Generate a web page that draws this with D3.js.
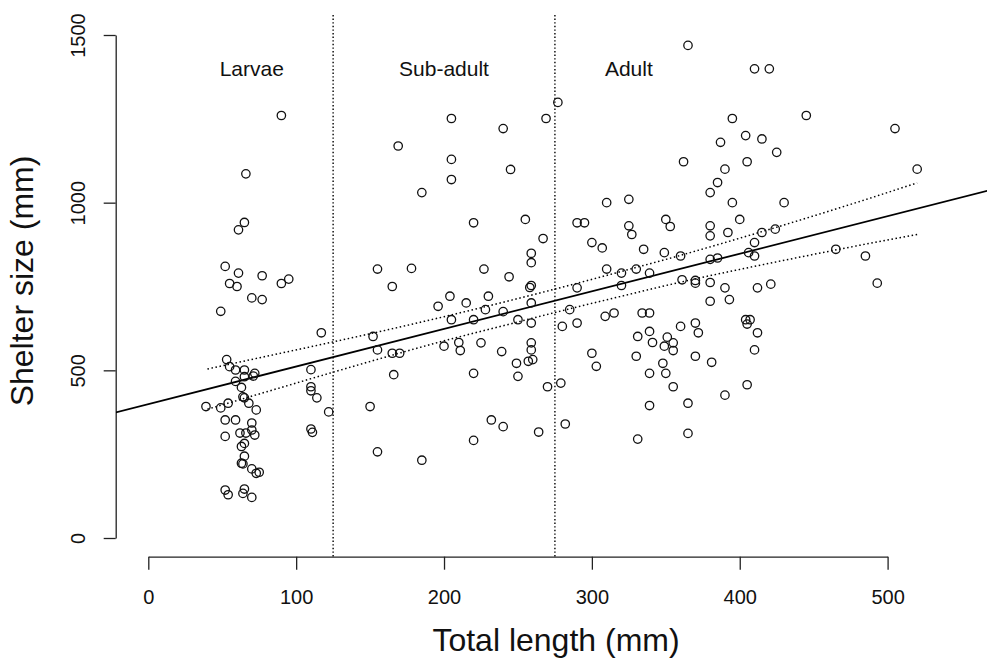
<!DOCTYPE html>
<html>
<head>
<meta charset="utf-8">
<script src="https://cdn.jsdelivr.net/npm/d3@7"></script>
<style>
  body { margin: 0; background: #fff; }
  svg { display: block; font-family: "Liberation Sans", Arial, Helvetica, sans-serif; }
</style>
</head>
<body>
<script>
'use strict';

// total length (mm) and shelter size (mm) of each animal
const lengths = [
  90, 66, 65, 61, 52, 61, 77, 95, 90, 55, 60, 70, 77, 49, 117, 53, 55, 59, 65, 72,
  71, 65, 59, 63, 110, 110, 110, 114, 64, 65, 68, 73, 39, 49, 54, 122, 52, 59, 70, 70,
  62, 66, 72, 52, 65, 63, 110, 111, 65, 63, 64, 70, 73, 75, 52, 54, 65, 64, 70,
  277, 269, 205, 240, 169, 205, 245, 205, 185, 310, 325, 220, 255, 290, 295, 325, 327, 267, 300, 307,
  335, 259, 259, 155, 178, 227, 244, 310, 320, 330, 339, 165, 259, 258, 290, 320,
  365, 410, 420, 445, 505, 395, 404, 415, 387, 425, 362, 405, 390, 520, 385, 380, 395, 430, 400, 350,
  353, 380, 380, 392, 415, 424, 410, 349, 360, 380, 385, 406, 410, 465, 485, 361, 370, 370, 380, 390,
  412, 421, 493,
  204, 230, 196, 215, 228, 240, 259, 285, 205, 220, 250, 259, 280, 290, 309, 315, 334, 339, 152, 155,
  165, 170, 200, 210, 211, 225, 239, 259, 259, 249, 257, 260, 250, 220, 166, 331, 339, 341, 330, 339,
  300, 303, 270, 279, 339, 150, 232, 240, 282, 264, 220, 331, 155, 185, 348,
  380, 393, 404, 407, 405, 370, 360, 372, 412, 351, 355, 349, 355, 370, 381, 410, 350, 355, 405, 390,
  365, 365
];
const shelters = [
  1260, 1086, 941, 919, 810, 790, 782, 772, 759, 759, 750, 716, 711, 676, 612, 532, 511, 501, 501, 491,
  483, 481, 467, 449, 502, 451, 439, 418, 421, 418, 402, 382, 392, 388, 402, 376, 352, 352, 343, 322,
  313, 313, 307, 303, 282, 273, 325, 315, 244, 223, 221, 206, 193, 196, 143, 129, 146, 133, 121,
  1299, 1251, 1251, 1221, 1169, 1129, 1099, 1069, 1030, 1000, 1010, 940, 950, 940, 940, 931, 905, 893, 881, 865,
  861, 849, 821, 802, 804, 802, 779, 802, 790, 802, 790, 750, 753, 747, 746, 753,
  1469, 1399, 1399, 1260, 1221, 1251, 1200, 1190, 1180, 1150, 1122, 1122, 1100, 1100, 1060, 1030, 1000, 1000, 950, 950,
  929, 931, 901, 911, 911, 921, 881, 851, 841, 831, 835, 851, 841, 861, 841, 770, 768, 760, 762, 746,
  746, 757, 760,
  721, 721, 691, 701, 681, 675, 701, 681, 651, 651, 651, 641, 631, 641, 661, 671, 671, 671, 601, 561,
  551, 551, 572, 583, 559, 582, 556, 582, 561, 521, 527, 532, 482, 491, 487, 601, 616, 583, 542, 491,
  551, 512, 451, 462, 395, 392, 352, 332, 340, 316, 291, 295, 257, 232, 521,
  706, 711, 651, 651, 638, 641, 631, 612, 612, 599, 582, 572, 559, 542, 524, 561, 491, 451, 457, 426,
  402, 312
];

// fitted line and its confidence band
const fitX = [-25, 575];
const fitY = [371, 1044];
const bandX = [40, 80, 120, 160, 200, 240, 280, 320, 360, 400, 440, 480, 520];
const bandUpper = [504, 542, 580, 619, 660, 703, 748, 795, 843, 894, 947, 1002, 1059];
const bandLower = [384, 436, 488, 539, 588, 633, 678, 721, 763, 801, 837, 872, 905];

// stage limits and labels
const stageBreaks = [125, 275];
const stageNames = ["Larvae", "Sub-adult", "Adult"];
const stageLabelX = [70, 200, 325];

const xTicks = [0, 100, 200, 300, 400, 500];
const yTicks = [0, 500, 1000, 1500];

const width = 987, height = 662;
const plot = {left: 116, right: 994, top: 15, bottom: 557};

const svg = d3.select("body").append("svg")
  .attr("width", width)
  .attr("height", height);

const x = d3.scaleLinear().domain([0, 500]).range([148.3, 887.6]);
const y = d3.scaleLinear().domain([0, 1500]).range([538, 35]);

makeAxes();
drawStages();
drawFit();
plotPoints();
makeLabels();

function makeAxes() {
  let xAxis = svg.append("g")
    .attr("transform", "translate(0," + 556.7 + ")")
    .call(d3.axisBottom(x).tickValues(xTicks).tickFormat(d3.format("d"))
      .tickSize(13).tickSizeOuter(0));
  xAxis.selectAll("text")
    .attr("y", 47)
    .attr("dy", 0)
    .style("font-size", "20px");

  let yAxis = svg.append("g")
    .attr("transform", "translate(115.7,0)")
    .call(d3.axisLeft(y).tickValues(yTicks).tickFormat(d3.format("d"))
      .tickSize(12).tickSizeOuter(0));
  yAxis.selectAll("text")
    .attr("transform", "rotate(-90)")
    .attr("x", 0)
    .attr("y", -31)
    .attr("dy", 0)
    .style("text-anchor", "middle")
    .style("font-size", "20px");

  svg.selectAll(".domain, .tick line")
    .attr("stroke", "#222")
    .attr("stroke-width", 1.3);
  svg.selectAll(".tick text").attr("fill", "#111");
}

function drawStages() {
  svg.selectAll(".stage")
    .data(stageBreaks)
    .enter().append("line")
    .attr("class", "stage")
    .attr("x1", d => x(d)).attr("x2", d => x(d))
    .attr("y1", plot.top).attr("y2", plot.bottom)
    .attr("stroke", "#000")
    .attr("stroke-width", 1.4)
    .attr("stroke-dasharray", "1.4,2.2");

  svg.selectAll(".stageName")
    .data(stageNames)
    .enter().append("text")
    .attr("class", "stageName")
    .attr("x", (d, i) => x(stageLabelX[i]))
    .attr("y", y(1400))
    .attr("dy", "0.37em")
    .style("text-anchor", "middle")
    .style("font-size", "21px")
    .attr("fill", "#111")
    .text(d => d);
}

function drawFit() {
  svg.append("clipPath").attr("id", "plotClip")
    .append("rect")
    .attr("x", plot.left).attr("y", plot.top)
    .attr("width", plot.right - plot.left)
    .attr("height", plot.bottom - plot.top);

  let line = d3.line()
    .x(d => x(d[0]))
    .y(d => y(d[1]));

  svg.append("path")
    .datum(fitX.map((v, i) => [v, fitY[i]]))
    .attr("clip-path", "url(#plotClip)")
    .attr("fill", "none")
    .attr("stroke", "#000")
    .attr("stroke-width", 1.8)
    .attr("d", line);

  [bandUpper, bandLower].forEach(band => {
    svg.append("path")
      .datum(bandX.map((v, i) => [v, band[i]]))
      .attr("fill", "none")
      .attr("stroke", "#000")
      .attr("stroke-width", 1.5)
      .attr("stroke-dasharray", "1.5,2.6")
      .attr("d", line.curve(d3.curveMonotoneX));
  });
}

function plotPoints() {
  svg.selectAll(".dot")
    .data(lengths)
    .enter().append("circle")
    .attr("class", "dot")
    .attr("cx", d => x(d))
    .attr("cy", (d, i) => y(shelters[i]))
    .attr("r", 4.2)
    .attr("fill", "none")
    .attr("stroke", "#111")
    .attr("stroke-width", 1.3);
}

function makeLabels() {
  svg.append("text")
    .attr("x", 556)
    .attr("y", 650.5)
    .style("text-anchor", "middle")
    .style("font-size", "32px")
    .attr("fill", "#111")
    .text("Total length (mm)");

  svg.append("text")
    .attr("transform", "translate(33,281)rotate(-90)")
    .style("text-anchor", "middle")
    .style("font-size", "32px")
    .attr("fill", "#111")
    .text("Shelter size (mm)");
}
</script>
</body>
</html>
